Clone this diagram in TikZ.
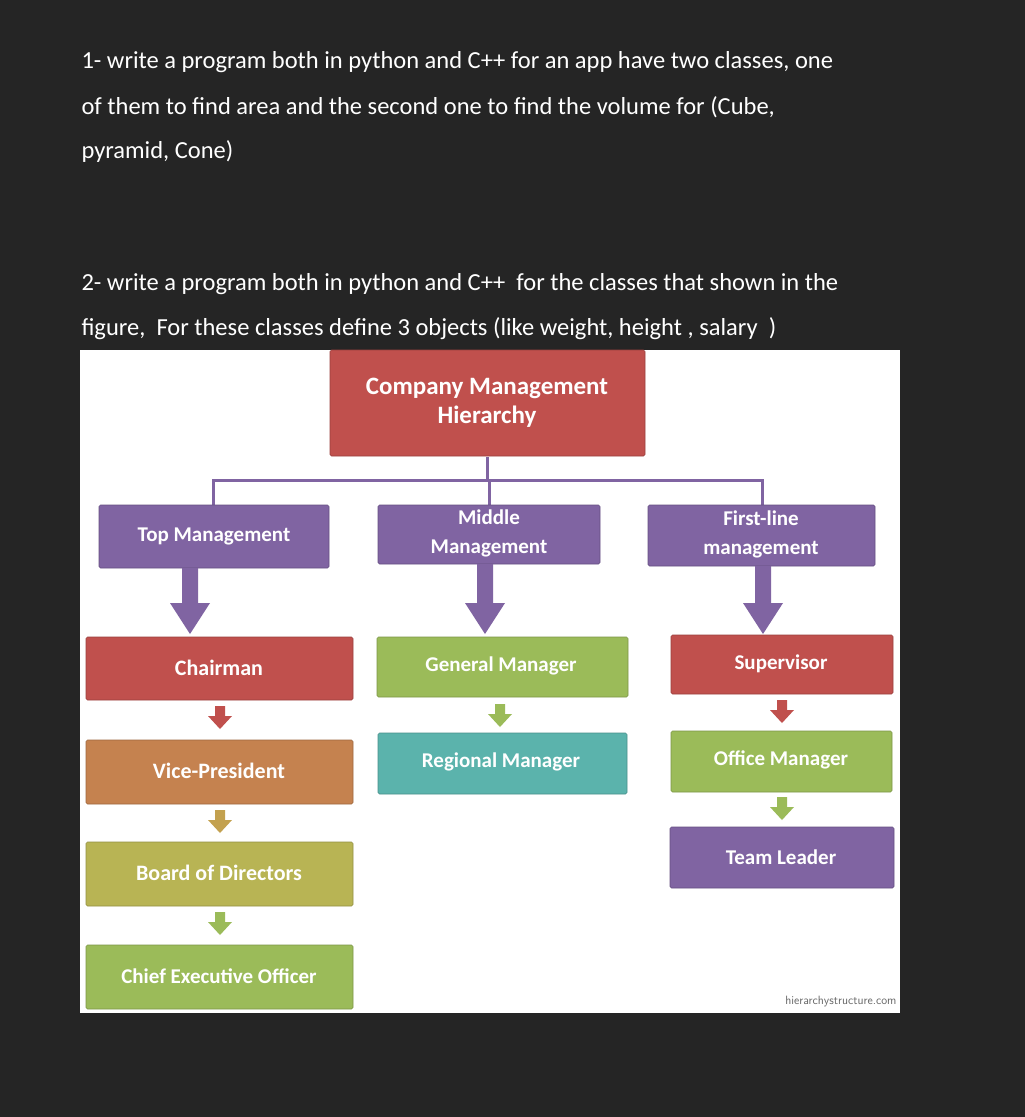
\documentclass[tikz,border=0pt]{standalone}
\usepackage{fontspec}
\setmainfont{Carlito}
\definecolor{bg}{HTML}{252525}
\definecolor{cred}{HTML}{C0504D}
\definecolor{cpur}{HTML}{8064A2}
\definecolor{cgrn}{HTML}{9BBB59}
\definecolor{corg}{HTML}{C5824F}
\definecolor{cteal}{HTML}{5BB3AC}
\definecolor{colv}{HTML}{B8B454}
\definecolor{ctan}{HTML}{C3A14F}
\begin{document}
\begin{tikzpicture}[x=1pt,y=-1pt,
  box/.style={fill=#1,draw=#1!80!black,line width=0.6pt,rounded corners=1.5pt,text=white,font=\fontsize{21}{23}\selectfont\bfseries,align=center},
  big/.style={fill=cpur,draw=none},
  txt/.style={text=white,anchor=west,font=\fontsize{24.5}{26}\selectfont}]
\fill[bg] (0,0) rectangle (1025,1117);
\useasboundingbox (0,0) rectangle (1025,1117);
\node[txt] (l1) at (78,62) {1- write a program both in python and C++ for an app have two classes, one};
\node[txt] (l2) at (78,107) {of them to find area and the second one to find the volume for (Cube,};
\node[txt] (l3) at (78,152) {pyramid, Cone)};
\node[txt] (l4) at (78,284) {2- write a program both in python and C++\ \ for the classes that shown in the};
\node[txt] (l5) at (78,329) {figure,\ \ For these classes define 3 objects (like weight, height , salary\ \ )};
\fill[white] (80,350) rectangle (900,1013);
% title
\path[box=cred] (330,350) rectangle (645,456);
\node[text=white,font=\fontsize{25}{29}\selectfont\bfseries,align=center] (title) at (487,403) {Company Management\\Hierarchy};
% connectors
\draw[cpur,line width=3pt] (487,457) -- (487,480);
\draw[cpur,line width=3pt] (213,480) -- (762,480);
\draw[cpur,line width=3pt] (213,479) -- (213,505);
\draw[cpur,line width=3pt] (489,479) -- (489,505);
\draw[cpur,line width=3pt] (762,479) -- (762,505);
% level 1
\path[box=cpur] (99,505) rectangle (329,568);
\node[text=white,font=\fontsize{21}{25}\selectfont\bfseries] (top) at (214,536) {Top Management};
\path[box=cpur] (378,505) rectangle (600,564);
\node[text=white,font=\fontsize{21}{29}\selectfont\bfseries,align=center] (mid) at (489,533) {Middle\\Management};
\path[box=cpur] (648,505) rectangle (875,566);
\node[text=white,font=\fontsize{21}{29}\selectfont\bfseries,align=center] (fl) at (761,534) {First-line\\management};
% big arrows
\foreach \x/\t in {190/568,485/564,763/566}{
  \fill[cpur] (\x-8,\t) -- (\x+8,\t) -- (\x+8,603) -- (\x+20,603) -- (\x,634) -- (\x-20,603) -- (\x-8,603) -- cycle;}
% column 1
\path[box=cred] (86,637) rectangle (353,700);
\node[text=white,font=\fontsize{22}{25}\selectfont\bfseries] (chair) at (219,668) {Chairman};
\path[box=corg] (86,740) rectangle (353,804);
\node[text=white,font=\fontsize{22}{25}\selectfont\bfseries] (vp) at (219,771) {Vice-President};
\path[box=colv] (86,842) rectangle (353,906);
\node[text=white,font=\fontsize{22}{25}\selectfont\bfseries] (bod) at (219,873) {Board of Directors};
\path[box=cgrn] (86,945) rectangle (353,1009);
\node[text=white,font=\fontsize{21}{25}\selectfont\bfseries] (ceo) at (219,976) {Chief Executive Officer};
% column 2
\path[box=cgrn] (377,637) rectangle (628,697);
\node[text=white,font=\fontsize{21}{25}\selectfont\bfseries] (gm) at (501,666) {General Manager};
\path[box=cteal] (378,733) rectangle (627,794);
\node[text=white,font=\fontsize{21}{25}\selectfont\bfseries] (rm) at (501,762) {Regional Manager};
% column 3
\path[box=cred] (671,635) rectangle (893,694);
\node[text=white,font=\fontsize{21}{25}\selectfont\bfseries] (sup) at (781,664) {Supervisor};
\path[box=cgrn] (671,731) rectangle (892,792);
\node[text=white,font=\fontsize{21}{25}\selectfont\bfseries] (om) at (781,760) {Office Manager};
\path[box=cpur] (670,827) rectangle (894,888);
\node[text=white,font=\fontsize{21}{25}\selectfont\bfseries] (tl) at (781,857) {Team Leader};
% small arrows
\foreach \x/\t/\c in {220/706/cred,220/810/ctan,220/912/cgrn,500/704/cgrn,782/700/cred,782/797/cgrn}{
  \fill[\c] (\x-5,\t) -- (\x+5,\t) -- (\x+5,\t+10) -- (\x+12,\t+10) -- (\x,\t+23) -- (\x-12,\t+10) -- (\x-5,\t+10) -- cycle;}
\node[text=black!60,font=\fontsize{12}{14}\selectfont\sffamily,anchor=east] (src) at (900,1002) {hierarchystructure.com};
\end{tikzpicture}
\end{document}
